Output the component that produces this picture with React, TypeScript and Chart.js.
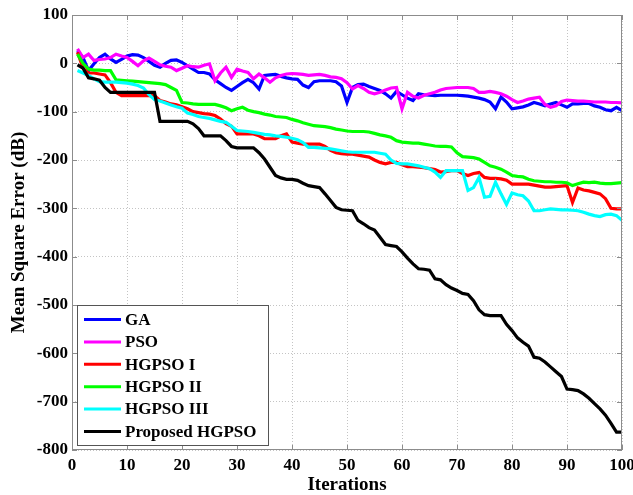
import React, { useEffect, useRef } from "react";
import { Chart, registerables } from "chart.js";

Chart.register(...registerables);

const seriesNames = ["GA", "PSO", "HGPSO I", "HGPSO II", "HGPSO III", "Proposed HGPSO"];
const seriesColors = ["#0000ff", "#ff00ff", "#ff0000", "#00ff00", "#00ffff", "#000000"];

const xTicks = [0, 10, 20, 30, 40, 50, 60, 70, 80, 90, 100];
const yTicks = [100, 0, -100, -200, -300, -400, -500, -600, -700, -800];

const iterations = Array.from({ length: 100 }, (_, i) => i + 1);

const gaValues = [
  26, 12, -15, -1, 12, 19, 9, 2, 8, 15,
  18, 17, 12, 4, -4, -8, 0, 6, 7, 2,
  -5, -12, -19, -19, -22, -34, -42, -50, -56, -48,
  -40, -33, -40, -53, -25, -24, -23, -27, -30, -32,
  -33, -45, -50, -38, -36, -36, -36, -38, -47, -81,
  -50, -44, -43, -48, -52, -56, -63, -72, -58, -65,
  -72, -77, -63, -65, -66, -67, -66, -66, -66, -66,
  -67, -68, -70, -72, -75, -80, -94, -70, -80, -94,
  -92, -90, -86, -81, -84, -88, -84, -81, -86, -91,
  -84, -84, -83, -83, -88, -91, -96, -98, -91, -98,
];

const psoValues = [
  30, 12, 19, 6, 8, 9, 12, 19, 15, 12,
  4, -5, 5, 11, 4, -3, -6, -8, -15, -10,
  -5, -7, -8, -4, -1, -36, -20, -8, -29, -12,
  -16, -19, -32, -22, -30, -39, -30, -25, -22, -21,
  -22, -23, -25, -24, -23, -25, -28, -29, -32, -40,
  -53, -46, -52, -60, -63, -60, -55, -51, -50, -94,
  -60, -68, -72, -66, -63, -60, -55, -52, -51, -50,
  -50, -50, -52, -60, -60, -58, -60, -63, -68, -75,
  -81, -78, -74, -72, -70, -85, -91, -88, -79, -76,
  -77, -78, -78, -79, -80, -80, -80, -81, -81, -82,
];

const hgpso1Values = [
  23, -10, -20, -20, -22, -24, -40, -60, -67, -67,
  -67, -67, -67, -67, -67, -77, -80, -84, -86, -90,
  -94, -100, -102, -104, -105, -108, -115, -125, -130, -146,
  -146, -146, -146, -150, -156, -156, -156, -150, -146, -163,
  -165, -167, -167, -167, -167, -172, -180, -185, -187, -188,
  -188, -190, -192, -194, -200, -205, -208, -205, -205, -210,
  -214, -214, -215, -216, -218, -220, -225, -224, -222, -222,
  -228, -232, -228, -226, -236, -238, -238, -239, -242, -250,
  -250, -250, -250, -252, -254, -256, -256, -255, -254, -253,
  -288, -258, -262, -264, -267, -270, -280, -300, -301, -301,
];

const hgpso2Values = [
  19, 0, -12, -14, -14, -15, -15, -34, -35, -36,
  -37, -38, -39, -40, -41, -42, -44, -50, -56, -81,
  -82, -84, -85, -85, -85, -85, -88, -92, -98, -94,
  -91, -97, -100, -102, -105, -107, -110, -111, -112, -116,
  -119, -123, -126, -129, -130, -131, -133, -136, -138, -140,
  -141, -141, -141, -142, -145, -148, -150, -153, -160, -163,
  -164, -165, -165, -167, -169, -171, -172, -172, -173, -185,
  -193, -194, -195, -198, -205, -212, -215, -219, -225, -232,
  -234, -235, -240, -243, -244, -245, -245, -246, -246, -247,
  -253, -249, -246, -247, -246, -248, -249, -249, -248, -247,
];

const hgpso3Values = [
  -15, -20, -25, -32, -38, -39, -39, -39, -40, -41,
  -43, -46, -51, -65, -75, -78, -82, -86, -90, -93,
  -103, -106, -110, -112, -114, -117, -120, -122, -130, -139,
  -140, -141, -143, -145, -147, -148, -150, -151, -153, -155,
  -158, -164, -174, -174, -175, -176, -177, -179, -181, -183,
  -184, -184, -184, -184, -184, -186, -188, -200, -207, -208,
  -208, -210, -212, -215, -218, -225, -236, -222, -222, -222,
  -222, -263, -257, -236, -277, -275, -246, -270, -292, -268,
  -272, -274, -285, -305, -305, -303, -301, -302, -303, -303,
  -304, -305, -308, -312, -315, -317, -313, -312, -315, -325,
];

const proposedValues = [
  -3, -10, -30, -32, -35, -50, -60, -60, -60, -60,
  -60, -60, -60, -60, -60, -120, -120, -120, -120, -120,
  -120, -125, -135, -150, -150, -150, -150, -160, -172, -175,
  -175, -175, -175, -185, -198, -215, -232, -237, -240, -240,
  -242, -248, -253, -255, -257, -270, -284, -298, -303, -304,
  -305, -325, -332, -340, -345, -360, -375, -377, -379, -390,
  -403, -415, -425, -426, -428, -446, -448, -458, -465, -470,
  -476, -478, -491, -510, -520, -522, -522, -522, -540, -553,
  -568, -577, -585, -608, -610, -618, -628, -638, -648, -674,
  -675, -677, -684, -693, -704, -715, -728, -745, -763, -763,
];

const allValues = [gaValues, psoValues, hgpso1Values, hgpso2Values, hgpso3Values, proposedValues];

const FONT = '"Liberation Serif", "Times New Roman", serif';
const FRAME = "#8c8c8c";

const framePlugin = {
  id: "frameAndLegend",
  afterDatasetsDraw(chart: any) {
    const { ctx, chartArea } = chart;
    const { left, right, top, bottom } = chartArea;
    ctx.save();
    ctx.strokeStyle = FRAME;
    ctx.lineWidth = 1;
    ctx.setLineDash([]);
    ctx.strokeRect(left + 0.5, top + 0.5, right - left - 1, bottom - top - 1);
    const xs = chart.scales.x;
    const ys = chart.scales.y;
    const tl = 5;
    ctx.beginPath();
    xTicks.forEach((v) => {
      const px = Math.round(xs.getPixelForValue(v)) + 0.5;
      ctx.moveTo(px, bottom);
      ctx.lineTo(px, bottom - tl);
      ctx.moveTo(px, top);
      ctx.lineTo(px, top + tl);
    });
    yTicks.forEach((v) => {
      const py = Math.round(ys.getPixelForValue(v)) + 0.5;
      ctx.moveTo(left, py);
      ctx.lineTo(left + tl, py);
      ctx.moveTo(right, py);
      ctx.lineTo(right - tl, py);
    });
    ctx.stroke();

    const bx = left + 5;
    const bw = 191;
    const bh = 140;
    const by = bottom - 5 - bh;
    ctx.fillStyle = "#ffffff";
    ctx.fillRect(bx, by, bw, bh);
    ctx.strokeStyle = "#555555";
    ctx.strokeRect(bx + 0.5, by + 0.5, bw, bh);
    ctx.font = `bold 17px ${FONT}`;
    ctx.textBaseline = "middle";
    ctx.textAlign = "left";
    const step = 22.4;
    seriesNames.forEach((name, i) => {
      const cy = by + 14.5 + i * step;
      ctx.strokeStyle = seriesColors[i];
      ctx.lineWidth = 3;
      ctx.beginPath();
      ctx.moveTo(bx + 7, cy);
      ctx.lineTo(bx + 44, cy);
      ctx.stroke();
      ctx.fillStyle = "#000000";
      ctx.fillText(name, bx + 48, cy + 1);
    });
    ctx.restore();
  },
};

export default function App() {
  const ref = useRef<HTMLCanvasElement | null>(null);

  useEffect(() => {
    if (!ref.current) return;
    const datasets = seriesNames.map((name, si) => ({
      label: name,
      data: iterations.map((it, k) => ({ x: it, y: allValues[si][k] })),
      borderColor: seriesColors[si],
      backgroundColor: seriesColors[si],
      borderWidth: 3.2,
      pointRadius: 0,
      tension: 0,
      fill: false,
      order: seriesNames.length - si,
    }));

    const chart = new Chart(ref.current, {
      type: "line",
      data: { datasets },
      options: {
        animation: false,
        responsive: false,
        maintainAspectRatio: false,
        layout: { padding: { left: 0, right: 11, top: 15, bottom: 0 } },
        plugins: {
          legend: { display: false },
          tooltip: { enabled: false },
        },
        scales: {
          x: {
            type: "linear",
            min: 0,
            max: 100,
            afterFit: (s: any) => {
              s.height = 45;
              s.paddingLeft = 0;
              s.paddingRight = 0;
            },
            afterBuildTicks: (s: any) => {
              s.ticks = xTicks.map((v) => ({ value: v }));
            },
            ticks: {
              color: "#000",
              padding: 5,
              maxRotation: 0,
              font: { family: FONT, size: 17, weight: "bold" },
            },
            grid: { color: "#c4c4c4", lineWidth: 1, drawTicks: false },
            border: { display: false, dash: [1, 2] },
            title: {
              display: true,
              text: "Iterations",
              color: "#000",
              font: { family: FONT, size: 19, weight: "bold", lineHeight: 1 },
              padding: { top: 0, bottom: 0 },
            },
          },
          y: {
            type: "linear",
            min: -800,
            max: 100,
            afterFit: (s: any) => {
              s.width = 72;
              s.paddingTop = 0;
              s.paddingBottom = 0;
            },
            afterBuildTicks: (s: any) => {
              s.ticks = yTicks.map((v) => ({ value: v }));
            },
            ticks: {
              color: "#000",
              padding: 4,
              font: { family: FONT, size: 17, weight: "bold" },
            },
            grid: { color: "#c4c4c4", lineWidth: 1, drawTicks: false },
            border: { display: false, dash: [1, 2] },
            title: {
              display: true,
              text: "Mean Square Error (dB)",
              color: "#000",
              font: { family: FONT, size: 19, weight: "bold", lineHeight: 1 },
              padding: { top: 10, bottom: 0 },
            },
          },
        },
      },
      plugins: [framePlugin],
    });
    return () => chart.destroy();
  }, []);

  return (
    <div style={{ position: "fixed", left: 0, top: 0, width: 633, height: 495, background: "#fff" }}>
      <canvas ref={ref} width={633} height={495} style={{ width: 633, height: 495, display: "block" }} />
    </div>
  );
}
